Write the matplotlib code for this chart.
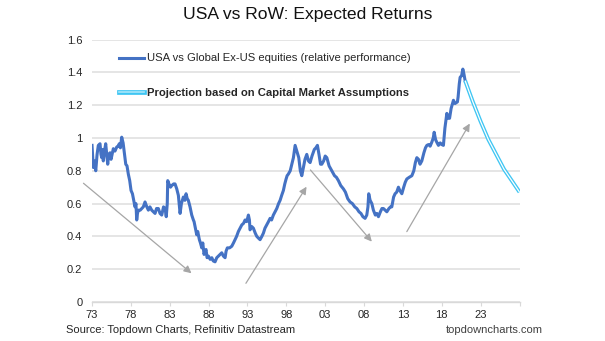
import numpy as np
import matplotlib
matplotlib.use('Agg')
import matplotlib.pyplot as plt
from matplotlib.lines import Line2D
from matplotlib.legend_handler import HandlerTuple
from matplotlib.ticker import FuncFormatter

plt.rcParams['font.family'] = ['Liberation Sans', 'DejaVu Sans']

# relative performance USA vs Global ex-US
years = [
    1973.0, 1973.17, 1973.3, 1973.48, 1973.65, 1973.81, 1974.03, 1974.15, 1974.25, 1974.35,
    1974.45, 1974.6, 1974.76, 1974.9, 1975.02, 1975.15, 1975.32, 1975.45, 1975.54, 1975.74,
    1975.95, 1976.18, 1976.35, 1976.51, 1976.65, 1976.82, 1977.0, 1977.12, 1977.34, 1977.5,
    1977.67, 1977.85, 1978.02, 1978.2, 1978.32, 1978.53, 1978.65, 1978.75, 1978.85, 1978.96,
    1979.2, 1979.4, 1979.6, 1979.82, 1980.05, 1980.25, 1980.45, 1980.68, 1980.9, 1981.11,
    1981.3, 1981.53, 1981.75, 1981.97, 1982.2, 1982.4, 1982.55, 1982.68, 1982.74, 1982.9,
    1983.1, 1983.26, 1983.5, 1983.68, 1983.9, 1984.11, 1984.33, 1984.5, 1984.75, 1984.95,
    1985.1, 1985.25, 1985.39, 1985.61, 1985.83, 1986.04, 1986.13, 1986.3, 1986.47, 1986.6,
    1986.81, 1986.95, 1987.12, 1987.25, 1987.41, 1987.55, 1987.67, 1987.8, 1987.97, 1988.2,
    1988.41, 1988.6, 1988.83, 1989.05, 1989.26, 1989.45, 1989.69, 1989.9, 1990.12, 1990.25,
    1990.41, 1990.7, 1990.98, 1991.2, 1991.4, 1991.6, 1991.83, 1992.05, 1992.27, 1992.5,
    1992.69, 1992.9, 1993.12, 1993.25, 1993.33, 1993.55, 1993.76, 1994.0, 1994.2, 1994.4,
    1994.62, 1994.85, 1995.05, 1995.25, 1995.48, 1995.7, 1995.91, 1996.1, 1996.33, 1996.55,
    1996.77, 1997.0, 1997.2, 1997.4, 1997.62, 1997.8, 1997.97, 1998.1, 1998.26, 1998.5,
    1998.7, 1998.91, 1999.13, 1999.35, 1999.6, 1999.8, 1999.99, 2000.2, 2000.4, 2000.63,
    2000.85, 2001.06, 2001.3, 2001.6, 2001.8, 2002.0, 2002.2, 2002.4, 2002.56, 2002.8,
    2003.0, 2003.21, 2003.5, 2003.85, 2004.2, 2004.45, 2004.7, 2005.0, 2005.34, 2005.6,
    2005.9, 2006.2, 2006.5, 2006.8, 2007.07, 2007.35, 2007.6, 2007.85, 2008.13, 2008.35,
    2008.5, 2008.6, 2008.78, 2009.0, 2009.2, 2009.45, 2009.65, 2009.85, 2010.1, 2010.3,
    2010.49, 2010.7, 2010.93, 2011.2, 2011.4, 2011.57, 2011.8, 2011.99, 2012.2, 2012.42,
    2012.6, 2012.86, 2013.1, 2013.3, 2013.5, 2013.8, 2014.15, 2014.4, 2014.6, 2014.79,
    2015.0, 2015.2, 2015.43, 2015.7, 2015.9, 2016.08, 2016.3, 2016.5, 2016.72, 2016.9,
    2017.02, 2017.2, 2017.4, 2017.57, 2017.8, 2018.0, 2018.21, 2018.4, 2018.65, 2018.8,
    2019.0, 2019.2, 2019.5, 2019.7, 2020.01, 2020.1, 2020.25, 2020.36, 2020.55, 2020.71,
    2020.85, 2021.0,
]
rel_perf = [
    0.955, 0.82, 0.86, 0.80, 0.90, 0.955, 0.965, 0.90, 0.88, 0.93,
    0.86, 0.92, 0.965, 0.90, 0.84, 0.90, 0.91, 0.87, 0.89, 0.935,
    0.92, 0.945, 0.95, 0.965, 0.94, 1.005, 0.97, 0.925, 0.84, 0.83,
    0.78, 0.74, 0.68, 0.66, 0.63, 0.58, 0.60, 0.50, 0.54, 0.56,
    0.56, 0.57, 0.58, 0.61, 0.58, 0.56, 0.58, 0.56, 0.55, 0.54,
    0.57, 0.57, 0.54, 0.53, 0.58, 0.57, 0.52, 0.60, 0.74, 0.72,
    0.70, 0.71, 0.72, 0.72, 0.69, 0.65, 0.54, 0.60, 0.64, 0.62,
    0.66, 0.63, 0.62, 0.58, 0.53, 0.50, 0.49, 0.45, 0.41, 0.43,
    0.38, 0.36, 0.33, 0.36, 0.29, 0.31, 0.32, 0.27, 0.28, 0.26,
    0.27, 0.25, 0.245, 0.27, 0.28, 0.29, 0.30, 0.28, 0.27, 0.31,
    0.33, 0.33, 0.34, 0.36, 0.38, 0.40, 0.43, 0.45, 0.47, 0.48,
    0.50, 0.49, 0.53, 0.50, 0.44, 0.46, 0.45, 0.42, 0.40, 0.39,
    0.38, 0.40, 0.42, 0.45, 0.47, 0.49, 0.51, 0.50, 0.53, 0.55,
    0.57, 0.60, 0.62, 0.65, 0.68, 0.72, 0.75, 0.77, 0.78, 0.80,
    0.84, 0.88, 0.955, 0.92, 0.88, 0.80, 0.77, 0.82, 0.87, 0.90,
    0.86, 0.85, 0.89, 0.93, 0.94, 0.955, 0.90, 0.84, 0.84, 0.86,
    0.89, 0.88, 0.83, 0.80, 0.77, 0.76, 0.74, 0.71, 0.69, 0.67,
    0.63, 0.61, 0.60, 0.58, 0.57, 0.55, 0.54, 0.52, 0.51, 0.53,
    0.58, 0.66, 0.62, 0.60, 0.56, 0.53, 0.54, 0.52, 0.55, 0.57,
    0.57, 0.56, 0.55, 0.57, 0.58, 0.58, 0.64, 0.66, 0.67, 0.70,
    0.68, 0.66, 0.70, 0.73, 0.75, 0.76, 0.77, 0.80, 0.85, 0.88,
    0.87, 0.84, 0.86, 0.91, 0.94, 0.955, 0.96, 0.95, 0.975, 1.00,
    1.035, 0.99, 0.97, 0.955, 0.97, 0.96, 0.955, 1.06, 1.15, 1.12,
    1.12, 1.18, 1.23, 1.21, 1.22, 1.25, 1.33, 1.37, 1.38, 1.42,
    1.39, 1.35,
]

# projection based on capital market assumptions
proj_years = [2021, 2022, 2023, 2024, 2025, 2026, 2027, 2028]
proj_values = [1.35, 1.22, 1.10, 0.99, 0.90, 0.81, 0.74, 0.67]

# trend arrows (start -> end), in (year, value)
arrows = [
    ((1971.9, 0.724), (1985.8, 0.175)),
    ((1992.8, 0.114), (2000.6, 0.703)),
    ((2001.1, 0.805), (2009.0, 0.368)),
    ((2013.5, 0.429), (2021.6, 1.088)),
]

x_ticks = [1973, 1978, 1983, 1988, 1993, 1998, 2003, 2008, 2013, 2018, 2023]
y_ticks = [0, 0.2, 0.4, 0.6, 0.8, 1.0, 1.2, 1.4, 1.6]

blue = '#4472C4'
cyan = '#3FC6F3'
grey = '#A6A6A6'
text_col = '#262626'

fig = plt.figure(figsize=(6.05, 3.41), dpi=100)
ax = fig.add_axes([0.1521, 0.1144, 0.7066, 0.7695])

for y in y_ticks:
    ax.axhline(y, color='#E3E3E3', lw=1.3, zorder=0)

ax.plot(years, rel_perf, color=blue, lw=2.2, zorder=3, solid_joinstyle='round')
ax.plot(proj_years, proj_values, color=cyan, lw=2.8, zorder=3, solid_capstyle='butt')
ax.plot(proj_years, proj_values, color='white', lw=0.9, zorder=4, solid_capstyle='butt')

for (x0, y0), (x1, y1) in arrows:
    ax.annotate('', xy=(x1, y1), xytext=(x0, y0), annotation_clip=False,
                arrowprops=dict(arrowstyle='-|>', color=grey, lw=0.9,
                                mutation_scale=11, shrinkA=0, shrinkB=0))

ax.set_xlim(1973, 2028)
ax.set_ylim(0, 1.6)
ax.set_xticks(x_ticks + [2028])
ax.set_xticklabels([f'{t % 100:02d}' for t in x_ticks] + [''])
ax.set_yticks(y_ticks)
ax.yaxis.set_major_formatter(FuncFormatter(lambda v, p: f'{v:g}'))

for s in ['top', 'right', 'left']:
    ax.spines[s].set_visible(False)
ax.spines['bottom'].set_color('#D9D9D9')
ax.spines['bottom'].set_linewidth(1.0)
ax.tick_params(axis='x', direction='out', length=3, width=0.8, color='#D9D9D9',
               labelsize=8, labelcolor=text_col, pad=3)
ax.tick_params(axis='y', length=0, labelsize=8, labelcolor=text_col, pad=7)

# legend
h1 = Line2D([], [], color=blue, lw=2.2)
h2 = (Line2D([], [], color=cyan, lw=3.4), Line2D([], [], color='#A8E6FA', lw=1.2))
leg = ax.legend([h1, h2],
                ['USA vs Global Ex-US equities (relative performance)',
                 'Projection based on Capital Market Assumptions'],
                handler_map={tuple: HandlerTuple(ndivide=1)},
                loc='upper left', bbox_to_anchor=(0.062, 0.947), frameon=False,
                fontsize=8.1, handlelength=2.3, handletextpad=0.2,
                labelspacing=2.15, borderpad=0, borderaxespad=0)
for t in leg.get_texts():
    t.set_color(text_col)
leg.get_texts()[1].set_fontweight('bold')

fig.text(0.508, 0.957, 'USA vs RoW: Expected Returns', ha='center', va='center',
         fontsize=12.6, color='#111111')
fig.text(0.109, 0.032, 'Source: Topdown Charts, Refinitiv Datastream', ha='left',
         va='center', fontsize=8, color=text_col)
fig.text(0.737, 0.032, 'topdowncharts.com', ha='left', va='center',
         fontsize=8, color='#404040')

fig.savefig('out.png', dpi=100)
